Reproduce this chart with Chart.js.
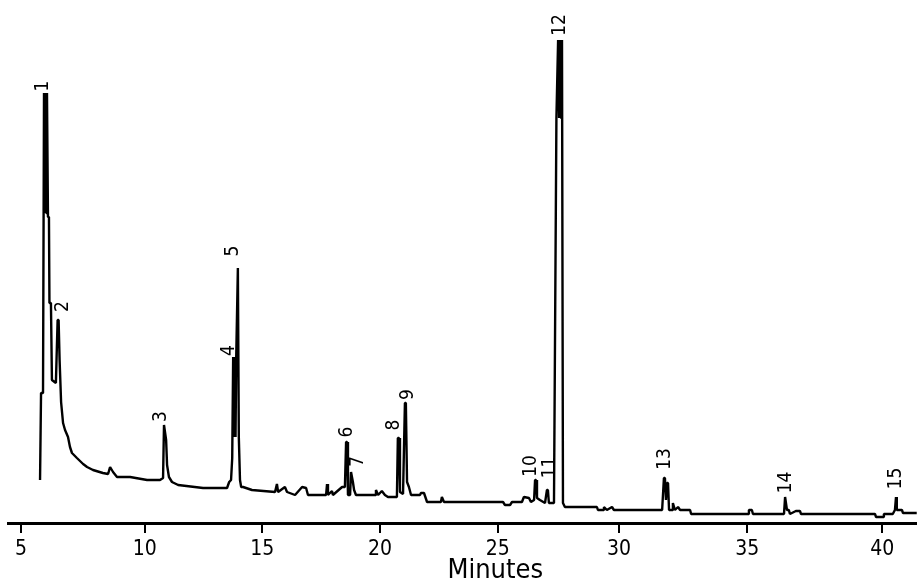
<!DOCTYPE html>
<html>
<head>
<meta charset="utf-8">
<script src="https://cdn.jsdelivr.net/npm/chart.js@4/dist/chart.umd.min.js"></script>
<style>
  html, body { margin: 0; padding: 0; background: #ffffff; }
  #wrap { width: 917px; height: 580px; }
  canvas { display: block; }
</style>
</head>
<body>
<div id="wrap"><canvas id="c" width="917" height="580"></canvas></div>
<script>
// ---- Data ----
const retentionTime = [
  5.77, 5.81, 5.89, 5.93, 5.96, 5.99, 6.02, 6.05, 6.09, 6.13, 6.15, 6.21, 6.25, 6.41, 6.48, 6.52, 6.56, 6.62,
  6.70, 6.78, 6.90, 6.98, 7.06, 7.26, 7.51, 7.67, 7.91, 8.31, 8.52, 8.60, 8.72, 8.88, 9.41, 10.10,
  10.65, 10.78, 10.82, 10.91, 10.95, 11.03, 11.16, 11.42, 12.48, 13.50, 13.59, 13.67, 13.72, 13.76,
  13.79, 13.82, 13.86, 13.89, 13.92, 13.96, 14.00, 14.05, 14.10, 14.18, 14.56,
  15.54, 15.62, 15.67, 15.96, 16.05, 16.39, 16.69, 16.86, 16.94, 17.71, 17.75, 17.79, 17.96, 18.00,
  18.39, 18.51, 18.56, 18.60, 18.64, 18.73, 18.77, 18.81, 18.85, 18.90, 18.98, 19.79, 19.83, 19.92,
  20.08, 20.21, 20.34, 20.72, 20.76, 20.81, 20.85, 20.98, 21.06, 21.10, 21.15, 21.23, 21.32, 21.70,
  21.74, 21.87, 22.00, 22.59, 22.63, 22.72, 25.22, 25.30, 25.51, 25.59, 26.00, 26.08, 26.29, 26.37,
  26.50, 26.54, 26.58, 26.62, 26.74, 26.95, 27.03, 27.07, 27.11, 27.32, 27.42, 27.49, 27.53, 27.57,
  27.61, 27.65, 27.69, 27.77, 29.09, 29.13, 29.34, 29.38, 29.50, 29.71, 29.79, 31.68, 31.75, 31.79,
  31.83, 31.87, 31.91, 31.95, 32.07, 32.10, 32.18, 32.30, 32.38, 32.77, 32.81, 35.03, 35.06, 35.17,
  35.21, 36.36, 36.40, 36.43, 36.47, 36.54, 36.58, 36.80, 36.95, 36.99, 39.73, 39.77, 40.03, 40.06,
  40.39, 40.47, 40.51, 40.54, 40.73, 40.77, 41.28
];
const detectorSignal = [
  8.6, 26.0, 26.0, 86.0, 62.0, 86.0, 62.0, 86.0, 61.2, 61.2, 44.0, 44.0, 28.6, 28.0, 40.6, 40.6, 32.6, 24.2,
  20.0, 18.6, 17.2, 15.2, 14.0, 13.0, 11.8, 11.2, 10.6, 10.0, 9.8, 11.2, 10.2, 9.2, 9.2, 8.6,
  8.6, 9.0, 19.6, 16.6, 11.6, 9.2, 8.2, 7.6, 7.0, 7.0, 8.2, 8.6, 13.0, 33.2,
  17.2, 33.2, 17.2, 33.2, 33.2, 51.0, 17.2, 8.6, 7.2, 7.2, 6.6,
  6.2, 7.8, 6.2, 7.2, 6.2, 5.6, 7.2, 7.0, 5.6, 5.6, 7.8, 5.6, 6.4, 5.6,
  7.2, 7.2, 16.2, 16.2, 5.6, 5.6, 10.2, 10.2, 8.2, 6.6, 5.6, 5.6, 6.6, 5.6,
  6.4, 5.6, 5.2, 5.2, 17.0, 17.0, 6.2, 5.8, 24.0, 24.0, 8.2, 7.2, 5.6, 5.6,
  6.0, 6.0, 4.2, 4.2, 5.2, 4.2, 4.2, 3.6, 3.6, 4.2, 4.2, 5.2, 5.0, 4.2,
  4.6, 8.6, 8.6, 5.0, 4.6, 4.0, 6.6, 6.6, 4.0, 4.0, 81.0, 96.6, 81.0, 96.6,
  81.0, 96.6, 4.0, 3.2, 3.2, 2.6, 2.6, 3.2, 2.6, 3.2, 2.6, 2.6, 9.0, 9.0,
  4.6, 8.0, 8.0, 2.6, 2.6, 4.0, 2.6, 3.2, 2.6, 2.6, 1.8, 1.8, 2.6, 2.6,
  1.8, 1.8, 5.2, 5.2, 2.6, 2.6, 1.8, 2.4, 2.4, 1.8, 1.8, 1.2, 1.2, 1.8,
  1.8, 2.6, 5.2, 2.6, 2.6, 2.0, 2.0
];
const peakNumbers = ['1','2','3','4','5','6','7','8','9','10','11','12','13','14','15'];
const peakLabelTime = [5.91, 6.72, 10.71, 13.58, 13.77, 18.60, 19.07, 20.59, 21.21, 26.39, 27.14, 27.57, 31.81, 36.45, 40.51];
const peakLabelSignal = [87.4, 43.3, 21.3, 34.5, 54.4, 18.2, 12.3, 19.6, 25.7, 11.4, 11.1, 99.6, 12.8, 8.1, 8.9];
const xTickValues = [5, 10, 15, 20, 25, 30, 35, 40];
const xAxisTitle = 'Minutes';

// ---- Axis calibration (the scanned time axis is slightly non-uniform) ----
const CAL_MINUTES = [4.47, 5, 10, 15, 20, 25, 30, 35, 40, 41.29];
const CAL_FRACTION = [0, 0.0143, 0.1504, 0.2798, 0.4092, 0.5387, 0.6722, 0.8133, 0.9618, 1];

function minutesToFraction(v) {
  const n = CAL_MINUTES.length;
  let i = 0;
  if (v <= CAL_MINUTES[0]) i = 0;
  else if (v >= CAL_MINUTES[n - 1]) i = n - 2;
  else { while (i < n - 2 && v > CAL_MINUTES[i + 1]) i++; }
  const t = (v - CAL_MINUTES[i]) / (CAL_MINUTES[i + 1] - CAL_MINUTES[i]);
  return CAL_FRACTION[i] + t * (CAL_FRACTION[i + 1] - CAL_FRACTION[i]);
}
function fractionToMinutes(d) {
  const n = CAL_FRACTION.length;
  let i = 0;
  if (d <= CAL_FRACTION[0]) i = 0;
  else if (d >= CAL_FRACTION[n - 1]) i = n - 2;
  else { while (i < n - 2 && d > CAL_FRACTION[i + 1]) i++; }
  const t = (d - CAL_FRACTION[i]) / (CAL_FRACTION[i + 1] - CAL_FRACTION[i]);
  return CAL_MINUTES[i] + t * (CAL_MINUTES[i + 1] - CAL_MINUTES[i]);
}

class CalibratedTimeScale extends Chart.LinearScale {
  getPixelForValue(value) {
    if (value === null || value === undefined || isNaN(value)) return NaN;
    return this.getPixelForDecimal(minutesToFraction(+value));
  }
  getValueForPixel(pixel) {
    return fractionToMinutes(this.getDecimalForPixel(pixel));
  }
}
CalibratedTimeScale.id = 'calibratedTime';
CalibratedTimeScale.defaults = Chart.LinearScale.defaults;
Chart.register(CalibratedTimeScale);

const NARROW = "'DejaVu Sans Condensed', 'DejaVu Sans', sans-serif";

const peakLabelPlugin = {
  id: 'peakLabels',
  afterDatasetsDraw(chart) {
    const ctx = chart.ctx;
    const xs = chart.scales.x, ys = chart.scales.y;
    ctx.save();
    ctx.fillStyle = '#000';
    ctx.font = '19px ' + NARROW;
    ctx.textAlign = 'center';
    ctx.textBaseline = 'middle';
    peakNumbers.forEach((txt, i) => {
      const px = xs.getPixelForValue(peakLabelTime[i]);
      const py = ys.getPixelForValue(peakLabelSignal[i]);
      ctx.save();
      ctx.translate(px, py);
      ctx.rotate(-Math.PI / 2);
      ctx.fillText(txt, 0, 0);
      ctx.restore();
    });
    ctx.restore();
  }
};

const axisTitlePlugin = {
  id: 'axisTitle',
  afterDraw(chart) {
    const ctx = chart.ctx;
    const xs = chart.scales.x;
    ctx.save();
    ctx.fillStyle = '#000';
    ctx.font = '27px ' + NARROW;
    ctx.textAlign = 'center';
    ctx.textBaseline = 'alphabetic';
    ctx.fillText(xAxisTitle, xs.getPixelForValue(24.9), 578);
    ctx.restore();
  }
};

new Chart(document.getElementById('c'), {
  type: 'line',
  data: {
    datasets: [{
      data: retentionTime.map((t, i) => ({ x: t, y: detectorSignal[i] })),
      borderColor: '#000',
      borderWidth: 2.4,
      borderJoinStyle: 'bevel',
      pointRadius: 0,
      tension: 0,
      fill: false
    }]
  },
  options: {
    responsive: false,
    animation: false,
    devicePixelRatio: 1,
    layout: { padding: { left: 8, right: 0, top: 0, bottom: 0 } },
    plugins: { legend: { display: false }, tooltip: { enabled: false } },
    scales: {
      x: {
        type: 'calibratedTime',
        min: 4.47,
        max: 41.29,
        afterBuildTicks: (scale) => { scale.ticks = xTickValues.map(v => ({ value: v })); },
        afterFit: (scale) => { scale.height = 57; },
        border: { display: true, color: '#000', width: 3 },
        grid: { display: true, drawOnChartArea: false, drawTicks: true, tickLength: 10, color: '#000', lineWidth: 2 },
        ticks: {
          autoSkip: false, maxRotation: 0, minRotation: 0, color: '#000', padding: 4,
          font: { family: NARROW, size: 21 },
          callback: (v) => String(v)
        }
      },
      y: { display: false, min: 0, max: 104.6 }
    }
  },
  plugins: [peakLabelPlugin, axisTitlePlugin]
});
</script>
</body>
</html>
